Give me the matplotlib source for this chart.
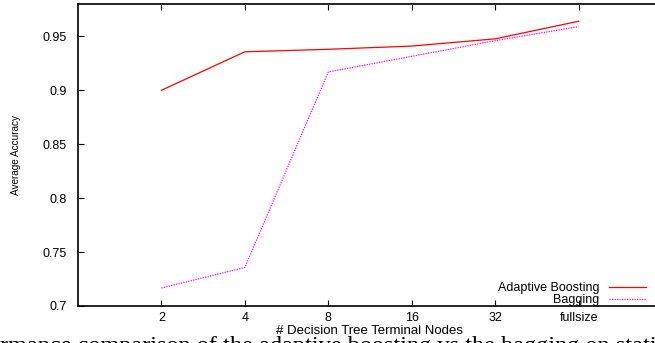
import matplotlib
matplotlib.use("Agg")
import matplotlib.pyplot as plt

categories = ["2", "4", "8", "16", "32", "fullsize"]
adaboost = [0.900, 0.9357, 0.938, 0.941, 0.9477, 0.964]
bagging = [0.7167, 0.7357, 0.917, 0.9315, 0.946, 0.959]
yticks = [0.7, 0.75, 0.8, 0.85, 0.9, 0.95]
ytick_labels = ["0.7", "0.75", "0.8", "0.85", "0.9", "0.95"]

plt.rcParams['font.family'] = ['Liberation Sans', 'DejaVu Sans']

W, H = 655, 343
fig = plt.figure(figsize=(W / 100, H / 100), dpi=100)
left, right, top, bottom = 78, 662, 4, 306
ax = fig.add_axes([left / W, (H - bottom) / H, (right - left) / W, (bottom - top) / H])

x = list(range(1, len(categories) + 1))
ax.plot(x, adaboost, color="#ff0000", lw=0.9, label="Adaptive Boosting")
ax.plot(x, bagging, color="#ff00ff", lw=0.9, linestyle=(0, (1, 1)), label="Bagging")

ax.set_xlim(0, 7)
ax.set_ylim(0.7, 0.98)
ax.set_xticks(x)
ax.set_xticklabels(categories)
ax.set_yticks(yticks)
ax.set_yticklabels(ytick_labels)
ax.tick_params(direction="in", length=4, width=0.8, labelsize=9, top=True, right=True,
               colors="black")
ax.tick_params(axis="x", pad=4)
ax.tick_params(axis="y", pad=8)
for s in ax.spines.values():
    s.set_linewidth(1.2)

ax.set_xlabel("# Decision Tree Terminal Nodes", fontsize=9.5, labelpad=1)
fig.text(16 / W, (H - 155) / H, "Average Accuracy", rotation=90, fontsize=7.2,
         ha="center", va="center")

leg = ax.legend(loc="lower right", bbox_to_anchor=(646 / W, (H - 306) / H),
                bbox_transform=fig.transFigure, frameon=False, markerfirst=False,
                fontsize=9, handlelength=3.0, handletextpad=0.7, labelspacing=0.0,
                borderpad=0, borderaxespad=0)

fig.text(0 / W, (H - 352) / H, "rmance comparison of the adaptive boosting vs the bagging on stati",
         fontsize=17.5, family=["Liberation Serif", "DejaVu Serif"], ha="left", va="baseline")

fig.savefig("out.png", dpi=100)
